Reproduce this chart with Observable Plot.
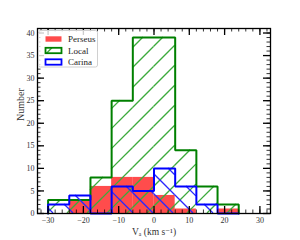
<!DOCTYPE html>
<html><head><meta charset="utf-8">
<script src="https://cdn.jsdelivr.net/npm/d3@7"></script>
<script src="https://cdn.jsdelivr.net/npm/@observablehq/plot@0.6"></script>
<style>
body{margin:0;background:#fff;}
#wrap{position:relative;width:300px;height:240px;overflow:hidden;}
#legend{position:absolute;left:0;top:0;}
</style></head><body><div id="wrap"></div>
<script>
const edges = [-30,-24,-18,-12,-6,0,6,12,18,24];
const perseus = [0,3,6,8,8,4,1,0,1];
const local = [3,3,8,25,39,39,14,6,2];
const carina = [2,4,0,6,5,10,6,2,0];
const xTicks = [-30,-20,-10,0,10,20,30];
const yTicks = [0,5,10,15,20,25,30,35,40];
const xMinor = d3.range(-32, 33, 2);
const yMinor = d3.range(0, 42, 1);
const seriesNames = ["Perseus","Local","Carina"];
const xLabel = "Vₐ (km s⁻¹)";
const yLabel = "Number";

const W = 300, H = 240, mL = 37, mR = 30, mT = 28, mB = 27;
const fw = W - mL - mR, fh = H - mT - mB;
const font = "'Liberation Serif', 'DejaVu Serif', serif";
const PERIOD = 20;

function bins(counts){ return counts.map((c,i)=>({x1:edges[i], x2:edges[i+1], y:c})).filter(d=>d.y>0); }
function steps(counts){
  const p=[{x:edges[0],y:0}];
  counts.forEach((c,i)=>{p.push({x:edges[i],y:c});p.push({x:edges[i+1],y:c});});
  p.push({x:edges[edges.length-1],y:0});
  return p;
}

function hatchSegs(x1, x2, yt, yb, dir){
  const segs = [];
  if (dir > 0) {
    const cMin = Math.ceil((x1 + yt) / PERIOD) * PERIOD, cMax = x2 + yb;
    for (let c = cMin; c <= cMax; c += PERIOD) {
      const a = Math.max(x1, c - yb), b = Math.min(x2, c - yt);
      if (b > a) segs.push({x1:a, y1:c - a, x2:b, y2:c - b});
    }
  } else {
    const cMin = Math.ceil((x1 - yb) / PERIOD) * PERIOD, cMax = x2 - yt;
    for (let c = cMin; c <= cMax; c += PERIOD) {
      const a = Math.max(x1, c + yt), b = Math.min(x2, c + yb);
      if (b > a) segs.push({x1:a, y1:a - c, x2:b, y2:b - c});
    }
  }
  return segs;
}

function hatchMark(counts, dir, color){
  return (index, scales) => {
    const g = d3.create("svg:g").attr("fill", "none").attr("stroke", color).attr("stroke-width", 1.3);
    counts.forEach((c, i) => {
      if (c <= 0) return;
      const x1 = scales.x(edges[i]), x2 = scales.x(edges[i+1]);
      const yt = scales.y(c), yb = scales.y(0);
      hatchSegs(x1, x2, yt, yb, dir).forEach(s => {
        g.append("path").attr("d", `M${s.x1},${s.y1}L${s.x2},${s.y2}`)
          .attr("style", `stroke:${color};stroke-width:1.3px`);
      });
    });
    return g.node();
  };
}

const svg = Plot.plot({
  width: W, height: H,
  marginLeft: mL, marginRight: mR, marginTop: mT, marginBottom: mB,
  style: {fontFamily: font, background: "white"},
  x: {domain: [-33, 33]},
  y: {domain: [0, 41]},
  marks: [
    Plot.rectY(bins(perseus), {x1:"x1", x2:"x2", y:"y", fill:"#ff0000", fillOpacity:0.7}),
    hatchMark(local, 1, "rgb(60,170,60)"),
    Plot.line(steps(local), {x:"x", y:"y", stroke:"#008000", strokeWidth:2, strokeLinejoin:"miter"}),
    hatchMark(carina, -1, "rgb(40,40,255)"),
    Plot.line(steps(carina), {x:"x", y:"y", stroke:"#0000ff", strokeWidth:2, strokeLinejoin:"miter"}),
    Plot.tickX(xMinor, {x:d=>d, insetTop: fh-3.5, stroke:"black", strokeWidth:0.8}),
    Plot.tickX(xMinor, {x:d=>d, insetBottom: fh-3.5, stroke:"black", strokeWidth:0.8}),
    Plot.tickX(xTicks, {x:d=>d, insetTop: fh-7, stroke:"black", strokeWidth:1.3}),
    Plot.tickX(xTicks, {x:d=>d, insetBottom: fh-7, stroke:"black", strokeWidth:1.3}),
    Plot.tickY(yMinor, {y:d=>d, insetRight: fw-3.5, stroke:"black", strokeWidth:0.8}),
    Plot.tickY(yMinor, {y:d=>d, insetLeft: fw-3.5, stroke:"black", strokeWidth:0.8}),
    Plot.tickY(yTicks, {y:d=>d, insetRight: fw-7, stroke:"black", strokeWidth:1.3}),
    Plot.tickY(yTicks, {y:d=>d, insetLeft: fw-7, stroke:"black", strokeWidth:1.3}),
    Plot.frame({stroke:"black", strokeWidth:1.3}),
    Plot.axisX(xTicks, {tickSize:0, tickPadding:4, label:null, fontSize:8, fill:"#333"}),
    Plot.axisY(yTicks, {tickSize:0, tickPadding:3, label:null, fontSize:8, fill:"#333"}),
    Plot.text([xLabel], {frameAnchor:"bottom", dy:21, fontSize:9.5, fill:"#333"}),
    Plot.text([yLabel], {frameAnchor:"left", dx:-17, rotate:-90, fontSize:10, fill:"#333"})
  ]
});

const wrap = document.getElementById("wrap");
wrap.appendChild(svg);

const lg = d3.select(wrap).append("svg").attr("id","legend").attr("width",W).attr("height",H);
lg.append("rect").attr("x",38.5).attr("y",30.5).attr("width",59).attr("height",36.5)
  .attr("rx",2).attr("fill","white").attr("fill-opacity",0.8).attr("stroke","#d0d0d0").attr("stroke-width",1);
const sw = [
  {fill:"#ff0000", op:0.7, stroke:"none", hatch:0},
  {fill:"white", op:1, stroke:"#008000", hatch:1},
  {fill:"white", op:1, stroke:"#0000ff", hatch:0}
];
seriesNames.forEach((name,i)=>{
  const cy = 39 + i*11.5;
  const rx = 45.5, ry = cy-2.7, rw = 16, rh = 5.4;
  lg.append("rect").attr("x",rx).attr("y",ry).attr("width",rw).attr("height",rh)
    .attr("fill",sw[i].fill).attr("fill-opacity",sw[i].op);
  if (sw[i].hatch) {
    lg.append("path").attr("d",`M${rx+1},${ry+rh}L${rx+1+rh},${ry}`)
      .attr("style","stroke:rgb(60,170,60);stroke-width:1.3px;fill:none");
  }
  lg.append("rect").attr("x",rx).attr("y",ry).attr("width",rw).attr("height",rh)
    .attr("fill","none").attr("stroke",sw[i].stroke).attr("stroke-width",1.8);
  lg.append("text").attr("x",68).attr("y",cy+3).attr("font-family",font).attr("font-size",9).attr("fill","#222").text(name);
});
</script></body></html>
